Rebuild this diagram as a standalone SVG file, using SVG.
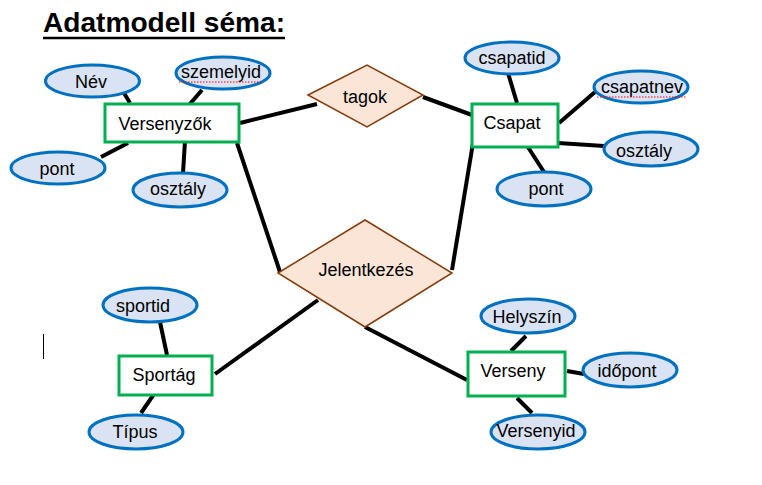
<svg xmlns="http://www.w3.org/2000/svg" width="762" height="485" viewBox="0 0 762 485">
<style>
text{font-family:"Liberation Sans",Arial,sans-serif;font-size:18px;fill:#000;text-anchor:middle}
.attr ellipse{fill:#dae3f3;stroke:#0070c0;stroke-width:3}
.ent rect{fill:#fff;stroke:#00b050;stroke-width:3}
.rel polygon{fill:#fbe5d6;stroke:#843c0c;stroke-width:1.5}
#connectors line{stroke:#000;stroke-width:4}
.spell{stroke:#ff0000;stroke-width:1;stroke-dasharray:1.5 1.5}
</style>
<rect width="762" height="485" fill="#fff"/>
<g id="title">
<text x="43" y="32" style="font-weight:bold;font-size:27px;text-anchor:start" textLength="242" lengthAdjust="spacingAndGlyphs">Adatmodell séma:</text>
<line x1="43" y1="38" x2="285" y2="38" stroke="#000" stroke-width="2.5"/>
</g>
<line x1="43.5" y1="334" x2="43.5" y2="359" stroke="#000" stroke-width="1"/>
<g id="connectors">
<line x1="124" y1="93" x2="130" y2="103"/>
<line x1="202" y1="90" x2="189" y2="105"/>
<line x1="128" y1="143" x2="101" y2="157"/>
<line x1="185" y1="141" x2="183" y2="173"/>
<line x1="240" y1="123" x2="317" y2="104"/>
<line x1="423" y1="97" x2="472" y2="115"/>
<line x1="508" y1="73" x2="517" y2="103"/>
<line x1="559" y1="123" x2="595" y2="92"/>
<line x1="558" y1="143" x2="604" y2="146"/>
<line x1="526" y1="144" x2="544" y2="172"/>
<line x1="473" y1="143" x2="452" y2="270"/>
<line x1="237" y1="143" x2="280" y2="272"/>
<line x1="318" y1="300" x2="215" y2="374"/>
<line x1="160" y1="322" x2="167" y2="355"/>
<line x1="154" y1="394" x2="141" y2="413"/>
<line x1="365" y1="327" x2="467" y2="380"/>
<line x1="526" y1="336" x2="511" y2="351"/>
<line x1="567" y1="371" x2="584" y2="374"/>
<line x1="517" y1="398" x2="532" y2="413"/>
</g>
<g id="nev" class="attr"><ellipse cx="92.5" cy="81" rx="47" ry="16"/><text x="91" y="88">Név</text></g>
<g id="szemelyid" class="attr"><ellipse cx="223" cy="73" rx="47" ry="16"/><text x="221" y="78">szemelyid</text><line class="spell" x1="179" y1="82" x2="263" y2="82"/></g>
<g id="pont1" class="attr"><ellipse cx="58" cy="168" rx="47" ry="16"/><text x="57" y="175">pont</text></g>
<g id="osztaly1" class="attr"><ellipse cx="180" cy="190" rx="47" ry="17"/><text x="178" y="195">osztály</text></g>
<g id="versenyzok" class="ent"><rect x="105" y="104" width="134" height="38"/><text x="165" y="130">Versenyzők</text></g>
<g id="tagok" class="rel"><polygon points="308,95 367,65 423,95 367,127"/><text x="365" y="103">tagok</text></g>
<g id="csapat" class="ent"><rect x="472" y="104" width="86" height="43"/><text x="512" y="129">Csapat</text></g>
<g id="csapatid" class="attr"><ellipse cx="512" cy="58" rx="47" ry="16"/><text x="512" y="64">csapatid</text></g>
<g id="csapatnev" class="attr"><ellipse cx="641" cy="87" rx="47" ry="16"/><text x="642" y="93">csapatnev</text><line class="spell" x1="597" y1="97" x2="687" y2="97"/></g>
<g id="osztaly2" class="attr"><ellipse cx="651" cy="149" rx="47" ry="17"/><text x="644" y="157">osztály</text></g>
<g id="pont2" class="attr"><ellipse cx="544" cy="189" rx="47" ry="17"/><text x="546" y="195">pont</text></g>
<g id="jelentkezes" class="rel"><polygon points="278,273 365,220 452,273 365,327"/><text x="366" y="276">Jelentkezés</text></g>
<g id="sportag" class="ent"><rect x="119" y="356" width="93" height="39"/><text x="164" y="381">Sportág</text></g>
<g id="sportid" class="attr"><ellipse cx="150" cy="305" rx="47" ry="17"/><text x="143" y="312">sportid</text></g>
<g id="tipus" class="attr"><ellipse cx="136" cy="432" rx="47" ry="17"/><text x="135" y="438">Típus</text></g>
<g id="verseny" class="ent"><rect x="468" y="352" width="97" height="44"/><text x="513" y="377">Verseny</text></g>
<g id="helyszin" class="attr"><ellipse cx="528" cy="316" rx="47" ry="17"/><text x="527" y="323">Helyszín</text></g>
<g id="idopont" class="attr"><ellipse cx="630" cy="370" rx="47" ry="17"/><text x="627" y="377">időpont</text></g>
<g id="versenyid" class="attr"><ellipse cx="538" cy="432" rx="47" ry="17"/><text x="536" y="437">Versenyid</text></g>
</svg>
